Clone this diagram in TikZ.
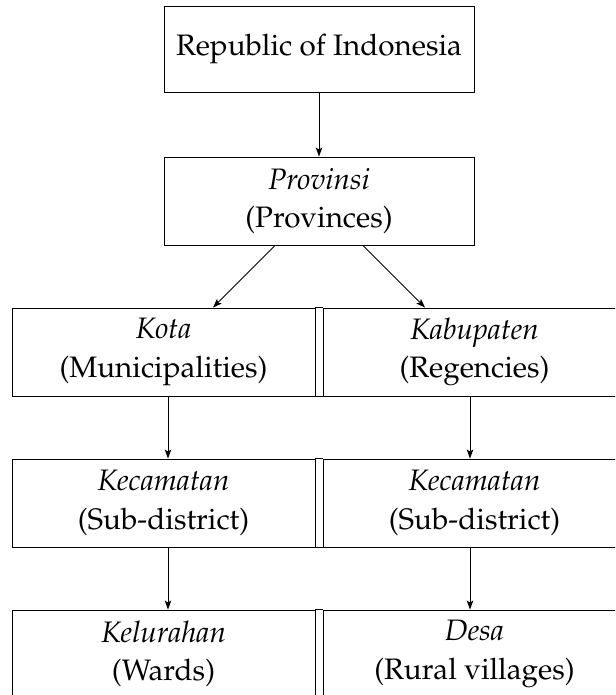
\documentclass[tikz,border=0pt]{standalone}
\usepackage[T1]{fontenc}
\usepackage{mathpazo}
\usetikzlibrary{arrows.meta,calc}
\tikzset{
  box/.style={draw, line width=0.9pt, inner sep=0pt, align=center,
    minimum width=303pt, minimum height=88pt,
    font=\fontsize{29.6}{38.5}\selectfont},
  conn/.style={line width=0.8pt, -{Stealth[length=9pt,width=6.5pt,inset=2pt]}},
  rule/.style={line width=0.9pt}
}
\begin{document}
\begin{tikzpicture}[x=1pt,y=-1pt]
\useasboundingbox (0,0) rectangle (615,695);
\clip (0,0) rectangle (615,695);
\node[box, minimum width=310pt, minimum height=86pt] (rep) at (319,49) {Republic of Indonesia};
\node[box, minimum width=310pt] (prov) at (319,201) {\textit{Provinsi}\\(Provinces)};
\node[box] (kota) at (163.5,352) {\textit{Kota}\\(Municipalities)};
\node[box] (kab) at (474.5,352) {\textit{Kabupaten}\\(Regencies)};
\node[box] (kec1) at (163.5,503) {\textit{Kecamatan}\\(Sub-district)};
\node[box] (kec2) at (474.5,503) {\textit{Kecamatan}\\(Sub-district)};
\node[box] (kel) at (163.5,654) {\textit{Kelurahan}\\(Wards)};
\node[box] (desa) at (474.5,654) {\textit{Desa}\\(Rural villages)};
% rules across the double separator
\foreach \l/\r in {kota/kab,kec1/kec2,kel/desa}{
  \draw[rule] (\l.north east) -- (\r.north west);
  \draw[rule] (\l.south east) -- (\r.south west);
}
\draw[conn] (rep.south) -- (prov.north);
\draw[conn] ($(prov.south)+(-44,0)$) -- ($(kota.north)+(49.5,0)$);
\draw[conn] ($(prov.south)+(44,0)$) -- ($(kab.north)+(-49.5,0)$);
\draw[conn] ($(kota.south)+(4.5,0)$) -- ($(kec1.north)+(4.5,0)$);
\draw[conn] ($(kab.south)+(-4.5,0)$) -- ($(kec2.north)+(-4.5,0)$);
\draw[conn] ($(kec1.south)+(4.5,0)$) -- ($(kel.north)+(4.5,0)$);
\draw[conn] ($(kec2.south)+(-4.5,0)$) -- ($(desa.north)+(-4.5,0)$);
\end{tikzpicture}
\end{document}
